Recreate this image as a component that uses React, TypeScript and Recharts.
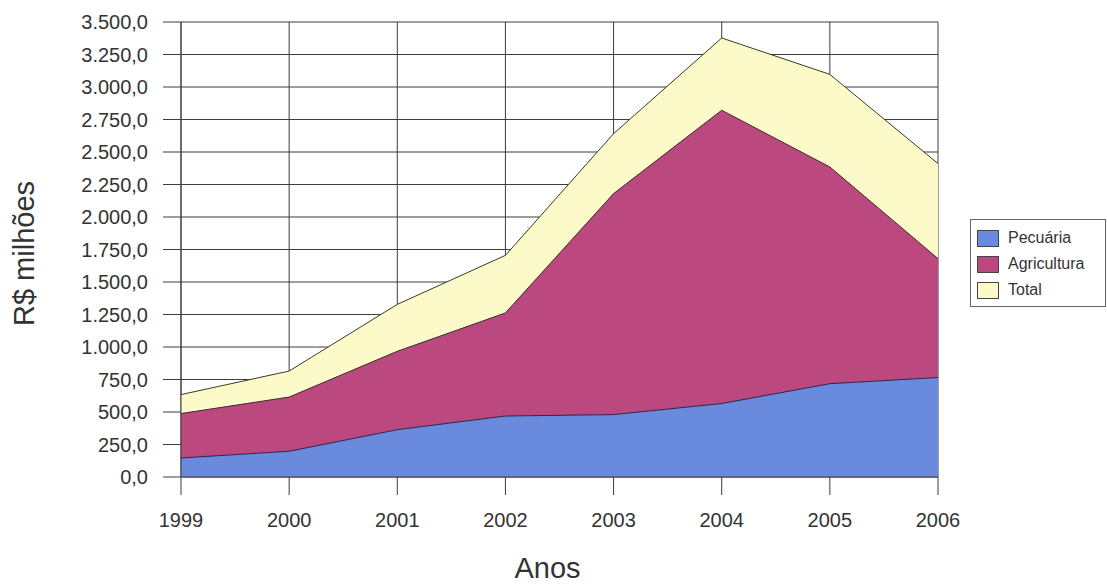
import React from "react";
import { AreaChart, Area, XAxis, YAxis, CartesianGrid, Legend } from "recharts";

const anos = ["1999", "2000", "2001", "2002", "2003", "2004", "2005", "2006"];
const pecuaria = [146, 198, 364, 469, 480, 565, 718, 765];
const agricultura = [488, 615, 967, 1262, 2180, 2821, 2385, 1680];
const total = [634, 815, 1328, 1705, 2641, 3377, 3097, 2411];
const yTicks = [0, 250, 500, 750, 1000, 1250, 1500, 1750, 2000, 2250, 2500, 2750, 3000, 3250, 3500];

const legendItems = [
  { name: "Pecuária", color: "#6a8ade" },
  { name: "Agricultura", color: "#bb487f" },
  { name: "Total", color: "#fcfac8" },
];

const data = anos.map((ano, i) => ({
  ano,
  Pecuária: pecuaria[i],
  Agricultura: agricultura[i],
  Total: total[i],
}));

const FONT = '"Liberation Sans", Arial, sans-serif';
const INK = "#333333";
const GRID = "#3c3c3c";

// 3500 -> "3.500,0"
const fmtBR = (v: number) => {
  const s = Math.round(v).toString().replace(/\B(?=(\d{3})+(?!\d))/g, ".");
  return `${s},0`;
};

const LegendBox = () => (
  <div
    style={{
      border: "1px solid #666",
      background: "#fff",
      padding: "5px 0 4px 6px",
      fontFamily: FONT,
      fontSize: 16,
      color: INK,
      boxSizing: "border-box",
      width: 136,
      height: 88,
    }}
  >
    {legendItems.map((it) => (
      <div key={it.name} style={{ display: "flex", alignItems: "center", height: 26 }}>
        <span
          style={{
            display: "inline-block",
            width: 20,
            height: 15,
            background: it.color,
            border: "1px solid #444",
            marginRight: 9,
          }}
        />
        <span>{it.name}</span>
      </div>
    ))}
  </div>
);

export default function App() {
  return (
    <div style={{ position: "absolute", left: 0, top: 0, width: 1107, height: 584, background: "#fff" }}>
      <AreaChart
        width={1107}
        height={584}
        data={data}
        margin={{ top: 22, right: 169, bottom: 0, left: 0 }}
      >
        <CartesianGrid stroke={GRID} strokeWidth={1} />
        <XAxis
          dataKey="ano"
          height={107}
          padding={{ left: 0, right: 0 }}
          tickSize={18}
          tickMargin={18}
          stroke={GRID}
          tick={{ fill: INK, fontSize: 20, fontFamily: FONT }}
          interval={0}
          label={{
            content: ({ viewBox }: any) => (
              <text
                x={viewBox.x + viewBox.width / 2 - 12}
                y={578}
                textAnchor="middle"
                fill={INK}
                fontSize={29}
                fontFamily={FONT}
              >
                Anos
              </text>
            ),
          }}
        />
        <YAxis
          width={181}
          domain={[0, 3500]}
          ticks={yTicks}
          interval={0}
          tickSize={18}
          tickMargin={15}
          stroke={GRID}
          tickFormatter={fmtBR}
          tick={{ fill: INK, fontSize: 20, fontFamily: FONT }}
          label={{
            content: ({ viewBox }: any) => {
              const cx = viewBox.x + 34;
              const cy = viewBox.y + viewBox.height / 2 + 4;
              return (
                <text
                  x={cx}
                  y={cy}
                  transform={`rotate(-90 ${cx} ${cy})`}
                  textAnchor="middle"
                  fill={INK}
                  fontSize={29}
                  fontFamily={FONT}
                >
                  R$ milhões
                </text>
              );
            },
          }}
        />
        <Legend
          layout="vertical"
          align="center"
          verticalAlign="middle"
          wrapperStyle={{ left: 970, top: 219, width: 136, height: 88 }}
          content={() => <LegendBox />}
        />
        <Area
          type="linear"
          dataKey="Total"
          stroke="#3a3a2a"
          strokeWidth={1}
          fill="#fcfac8"
          fillOpacity={1}
          isAnimationActive={false}
        />
        <Area
          type="linear"
          dataKey="Agricultura"
          stroke="#3a2a2a"
          strokeWidth={1}
          fill="#bb487f"
          fillOpacity={1}
          isAnimationActive={false}
        />
        <Area
          type="linear"
          dataKey="Pecuária"
          stroke="#2a2a4a"
          strokeWidth={1}
          fill="#6a8ade"
          fillOpacity={1}
          isAnimationActive={false}
        />
      </AreaChart>
    </div>
  );
}
